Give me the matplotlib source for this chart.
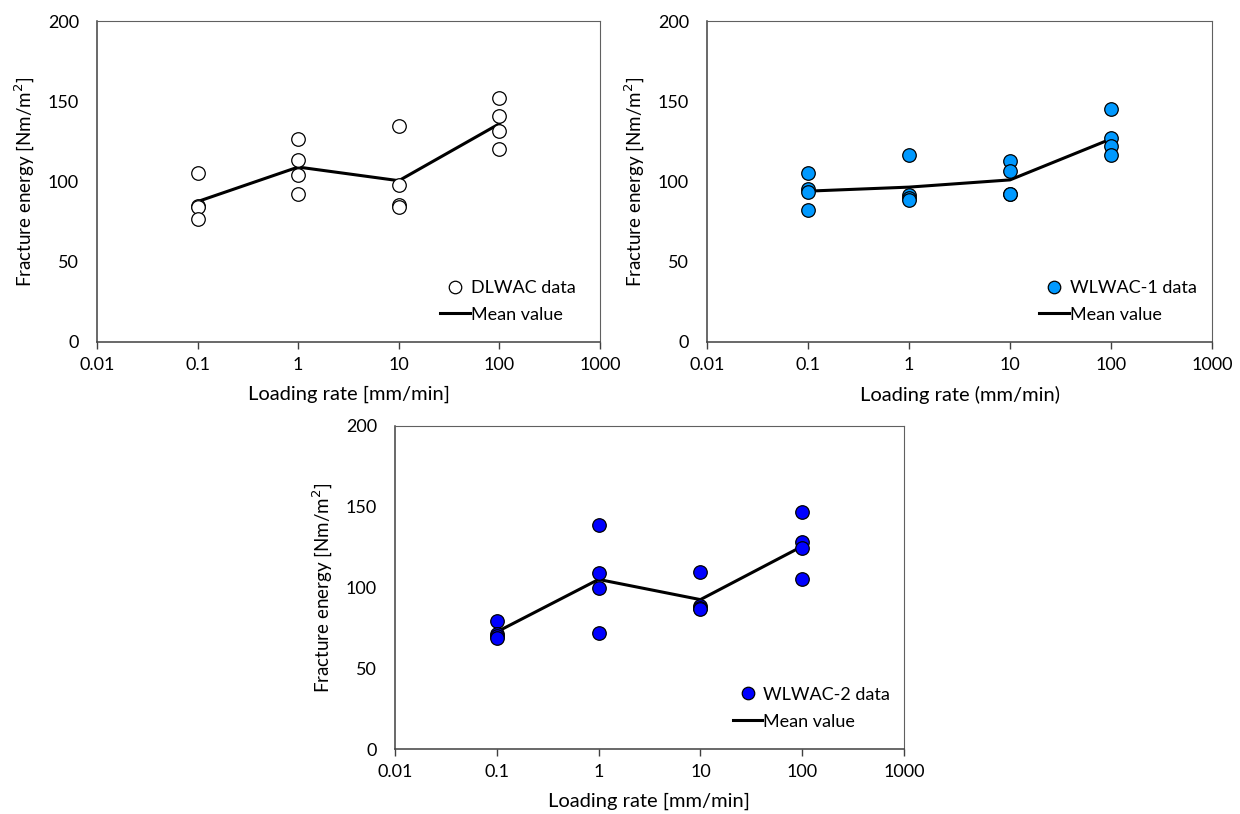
import numpy as np
import matplotlib
matplotlib.use("Agg")
import matplotlib.pyplot as plt
from matplotlib.lines import Line2D

plt.rcParams['font.family'] = ['Lato', 'DejaVu Sans']

# loading rates (mm/min)
rates = [0.1, 1, 10, 100]

# individual test results, four specimens per loading rate
dlwac_data = [[105, 85, 84, 76.5],
              [126.5, 113.5, 104, 92],
              [134.5, 98, 85.5, 84],
              [152, 140.5, 131.5, 120]]
wlwac1_data = [[105, 95.5, 93.5, 82],
               [116.5, 91.5, 89.5, 88.5],
               [112.5, 106.5, 92.5, 92],
               [145, 127, 122, 116.5]]
wlwac2_data = [[79.5, 71, 70, 68.5],
               [138.5, 109, 100, 72],
               [109.5, 88.5, 87, 86.5],
               [146.5, 128, 124.5, 105]]

# mean values
dlwac_mean = [87.5, 109, 100.5, 136]
wlwac1_mean = [94, 96.5, 101, 126.5]
wlwac2_mean = [72.5, 105, 92.5, 125.5]

xticks = [0.01, 0.1, 1, 10, 100, 1000]
xtick_labels = ['0.01', '0.1', '1', '10', '100', '1000']
yticks = [0, 50, 100, 150, 200]

# axes box in pixels (left, top, right, bottom), legend right edge (axes frac)
panels = [
    ([97, 21, 600, 342], 0.952, dlwac_data, dlwac_mean, 'white',
     'DLWAC data', 'Loading rate [mm/min]'),
    ([707, 21, 1212, 342], 0.970, wlwac1_data, wlwac1_mean, '#0099FF',
     'WLWAC-1 data', 'Loading rate (mm/min)'),
    ([395, 426, 904, 749], 0.973, wlwac2_data, wlwac2_mean, '#0000FF',
     'WLWAC-2 data', 'Loading rate [mm/min]'),
]

W, H = 1240, 814
fig = plt.figure(figsize=(W / 100, H / 100), dpi=100)

for box, leg_x, data, mean, fill, name, xlabel in panels:
    l, t, r, b = box
    ax = fig.add_axes([l / W, 1 - b / H, (r - l) / W, (b - t) / H])
    ax.set_xscale('log')

    xs = np.repeat(rates, 4)
    ys = np.array(data).ravel()
    ax.plot(rates, mean, color='black', lw=2.2, zorder=2)
    ax.scatter(xs, ys, s=95, facecolor=fill, edgecolor='black',
               linewidth=0.9, zorder=3)

    ax.set_xlim(0.01, 1000)
    ax.set_ylim(0, 200)
    ax.set_xticks(xticks)
    ax.set_xticklabels(xtick_labels)
    ax.xaxis.set_minor_locator(matplotlib.ticker.NullLocator())
    ax.set_yticks(yticks)
    ax.tick_params(axis='x', direction='out', length=5, width=1,
                   color='#404040', labelsize=13, pad=6)
    ax.tick_params(axis='y', length=0, labelsize=13, pad=13)
    for s in ['left', 'bottom']:
        ax.spines[s].set_color('#404040')
        ax.spines[s].set_linewidth(1.1)
    for s in ['top', 'right']:
        ax.spines[s].set_color('#606060')
        ax.spines[s].set_linewidth(0.8)

    ax.set_xlabel(xlabel, fontsize=14.5, labelpad=9)
    ax.set_ylabel('Fracture energy [Nm/m$^2$]', fontsize=13.5, labelpad=8)

    handles = [Line2D([], [], ls='none', marker='o', markersize=9,
                      markerfacecolor=fill, markeredgecolor='black',
                      markeredgewidth=0.9),
               Line2D([], [], color='black', lw=2.2)]
    ax.legend(handles, [name, 'Mean value'], loc='lower right',
              bbox_to_anchor=(leg_x, 0.06), frameon=False, fontsize=13,
              borderpad=0, borderaxespad=0, handlelength=1.65,
              handletextpad=0.05, labelspacing=0.6)

fig.savefig('out.png', dpi=100)
